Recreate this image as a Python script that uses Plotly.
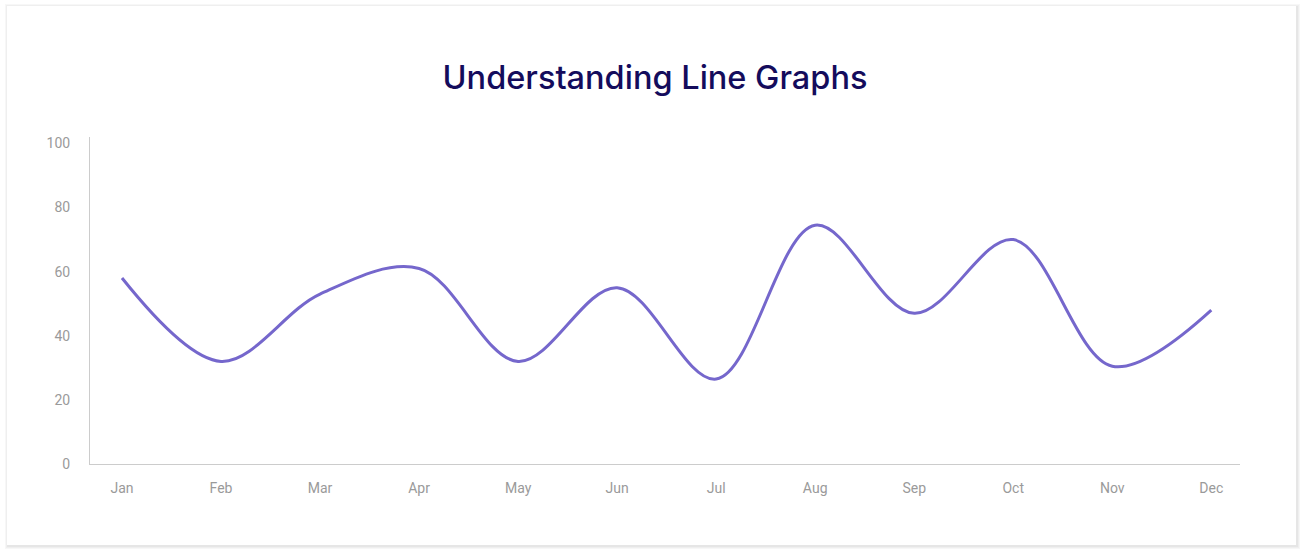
import plotly.graph_objects as go

months = ["Jan", "Feb", "Mar", "Apr", "May", "Jun", "Jul", "Aug", "Sep", "Oct", "Nov", "Dec"]
values = [58, 32, 53, 61, 32, 55, 26.5, 74.5, 47, 70, 30.5, 48]
y_ticks = [0, 20, 40, 60, 80, 100]

fig = go.Figure()
fig.add_trace(go.Scatter(
    x=list(range(len(months))), y=values, mode="lines",
    line=dict(color="#7567cc", width=3, shape="spline", smoothing=1.0),
    hoverinfo="skip",
))

W, H = 1310, 559
L, R, T, B = 90, 70, 137, 95
pw, ph = W - L - R, H - T - B

def px(xp):
    return (xp - L) / pw

def py(yp):
    return (H - B - yp) / ph

shapes = []
# soft shadow layers
for i, c in enumerate(["#f7f7f7", "#efefef", "#e6e6e6"]):
    o = 3 - i
    shapes.append(dict(type="rect", xref="paper", yref="paper", layer="below",
                       x0=px(7 - o + 1), x1=px(1296 + o + 1), y0=py(545 + o + 1), y1=py(6 - o + 1),
                       fillcolor=c, line=dict(width=0)))
shapes.append(dict(type="rect", xref="paper", yref="paper", layer="below",
                   x0=px(7), x1=px(1296), y0=py(545), y1=py(6),
                   fillcolor="#ffffff", line=dict(width=0)))

fig.update_layout(
    width=W, height=H,
    margin=dict(l=L, r=R, t=T, b=B),
    paper_bgcolor="#ffffff", plot_bgcolor="rgba(0,0,0,0)",
    showlegend=False,
    shapes=shapes,
    title=dict(text="Understanding Line Graphs", x=0.5, xanchor="center",
               y=1 - 78 / H, yanchor="middle",
               font=dict(family="Inter", size=32.5, color="#140c5c", weight=500)),
    xaxis=dict(range=[-0.323, 11.29], tickmode="array",
               tickvals=list(range(len(months))), ticktext=months,
               showgrid=False, zeroline=False, showline=True, linecolor="#cccccc", linewidth=1,
               ticks="outside", ticklen=11, tickcolor="rgba(0,0,0,0)",
               tickfont=dict(family="Roboto", size=14, color="#9a9a9a")),
    yaxis=dict(range=[0, 102], tickmode="array", tickvals=y_ticks,
               showgrid=False, zeroline=False, showline=True, linecolor="#cccccc", linewidth=1,
               ticks="outside", ticklen=16, tickcolor="rgba(0,0,0,0)",
               tickfont=dict(family="Roboto", size=14, color="#9a9a9a")),
)

fig.write_html("out.html")
